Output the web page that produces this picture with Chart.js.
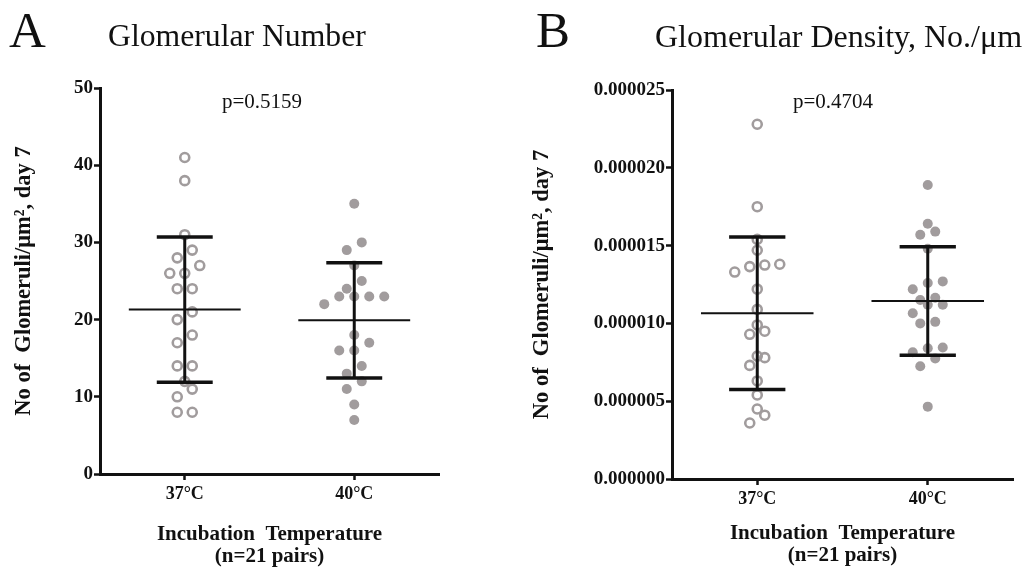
<!DOCTYPE html>
<html>
<head>
<meta charset="utf-8">
<script src="https://cdn.jsdelivr.net/npm/chart.js@4.4.0/dist/chart.umd.min.js"></script>
<style>
  body { margin: 0; background: #fff; width: 1027px; height: 568px; position: relative; overflow: hidden;
         font-family: "Liberation Serif", "Times New Roman", serif; color: #111; }
  .panel { position: absolute; top: 0; height: 568px; }
  .txt { position: absolute; white-space: nowrap; line-height: 1; z-index: 2; }
</style>
</head>
<body>
<div class="txt" style="left:9px; top:5px; font-size:51px;">A</div>
<div class="txt" style="left:108px; top:20px; font-size:31.7px;">Glomerular Number</div>
<div class="txt" style="left:222px; top:91px; font-size:21px;">p=0.5159</div>

<div class="txt" style="left:536px; top:5px; font-size:51px;">B</div>
<div class="txt" style="left:655px; top:20px; font-size:32px;">Glomerular Density, No./μm</div>
<div class="txt" style="left:793px; top:91px; font-size:21px;">p=0.4704</div>

<div class="panel" style="left:0; width:510px;"><canvas id="chartA"></canvas></div>
<div class="panel" style="left:510px; width:517px;"><canvas id="chartB"></canvas></div>

<script>
// Values
const categories = ['37°C', '40°C'];

// Panel A: glomerular number
const numberAt37 = [41, 38, 31, 29, 28, 27, 26, 26, 24, 24, 21, 20, 18, 17, 14, 14, 12, 11, 10, 8, 8];
const numberAt40 = [35, 30, 29, 27, 25, 24, 23, 23, 23, 23, 22, 18, 17, 16, 16, 14, 13, 12, 11, 9, 7];
const numberMean = [21.3, 19.9];
const numberSD = [9.4, 7.45];
const numberTicks = [0, 10, 20, 30, 40, 50];

// Panel B: glomerular density
const densityAt37 = [22.8e-6, 17.5e-6, 15.4e-6, 14.7e-6, 13.8e-6, 13.75e-6, 13.65e-6, 13.3e-6, 12.2e-6, 10.9e-6,
                     9.9e-6, 9.5e-6, 9.3e-6, 7.9e-6, 7.8e-6, 7.3e-6, 6.3e-6, 5.4e-6, 4.5e-6, 4.1e-6, 3.6e-6];
const densityAt40 = [18.9e-6, 16.4e-6, 15.9e-6, 15.7e-6, 14.8e-6, 12.7e-6, 12.6e-6, 12.2e-6, 11.65e-6, 11.5e-6,
                     11.2e-6, 11.2e-6, 10.65e-6, 10.1e-6, 10.0e-6, 8.45e-6, 8.4e-6, 8.15e-6, 7.75e-6, 7.25e-6, 4.65e-6];
const densityMean = [10.65e-6, 11.44e-6];
const densitySD = [4.9e-6, 3.48e-6];
const densityTicks = [0, 0.000005, 0.00001, 0.000015, 0.00002, 0.000025];

const FONT = '"Liberation Serif", "Times New Roman", serif';
const INK = '#111';
const GREY = '#a19c9d';

// Prism-style scatter dot plot: points that are close in value share a row
// and the row is centred on the category
const swarmPlugin = {
  id: 'swarm',
  afterDatasetsUpdate(chart) {
    const gap = 15, rowHeight = 9;
    chart.data.datasets.forEach((ds, i) => {
      if (!ds.swarm) return;
      const pts = chart.getDatasetMeta(i).data.slice().sort((a, b) => b.y - a.y);
      let row = [];
      const flush = () => {
        row.forEach((p, j) => { p.x = p.x + (j - (row.length - 1) / 2) * gap; });
        row = [];
      };
      pts.forEach(p => {
        if (row.length && row[0].y - p.y > rowHeight) flush();
        row.push(p);
      });
      flush();
    });
  }
};

function segment(points, width) {
  return {
    type: 'scatter',
    data: points.map(p => ({ x: p[0], y: p[1] })),
    showLine: true,
    borderColor: INK,
    borderWidth: width,
    borderCapStyle: 'butt',
    pointRadius: 0,
    order: 0
  };
}

function summaryDatasets(means, sds) {
  const out = [];
  means.forEach((m, i) => {
    const c = i + 1, s = sds[i];
    out.push(segment([[c - 0.33, m], [c + 0.33, m]], 2));
    out.push(segment([[c, m - s], [c, m + s]], 3));
    out.push(segment([[c - 0.165, m + s], [c + 0.165, m + s]], 3.5));
    out.push(segment([[c - 0.165, m - s], [c + 0.165, m - s]], 3.5));
  });
  return out;
}

function pointDatasets(a, b) {
  return [
    {
      data: a.map(v => ({ x: 1, y: v })),
      swarm: true,
      pointRadius: 4.5,
      pointBorderWidth: 2.6,
      pointBorderColor: GREY,
      pointBackgroundColor: 'rgba(0,0,0,0)',
      order: 1
    },
    {
      data: b.map(v => ({ x: 2, y: v })),
      swarm: true,
      pointRadius: 5,
      pointBorderWidth: 0,
      pointBackgroundColor: GREY,
      order: 1
    }
  ];
}

function makeOptions(cfg) {
  return {
    responsive: true,
    maintainAspectRatio: false,
    animation: false,
    layout: { padding: { left: 0, top: cfg.top, right: cfg.right, bottom: 0 } },
    plugins: { legend: { display: false }, tooltip: { enabled: false } },
    scales: {
      x: {
        type: 'linear',
        min: 0.5,
        max: 2.5,
        afterBuildTicks: s => { s.ticks = categories.map((c, i) => ({ value: i + 1 })); },
        afterFit: s => { s.height = cfg.xHeight; },
        ticks: {
          callback: v => categories[v - 1],
          font: { family: FONT, size: 18, weight: 'bold' },
          color: INK,
          padding: 4,
          maxRotation: 0,
          autoSkip: false
        },
        grid: { drawOnChartArea: false, drawTicks: true, tickLength: 6, tickWidth: 2.5, color: INK },
        border: { display: true, width: 3, color: INK },
        title: {
          display: true,
          text: ['Incubation  Temperature', '(n=21 pairs)'],
          font: { family: FONT, size: 21, weight: 'bold', lineHeight: 1.05 },
          color: INK,
          padding: { top: 0, bottom: cfg.xTitlePad }
        }
      },
      y: {
        min: 0,
        max: cfg.ticks[cfg.ticks.length - 1],
        afterBuildTicks: s => { s.ticks = cfg.ticks.map(v => ({ value: v })); },
        afterFit: s => { s.width = cfg.yWidth; },
        ticks: {
          callback: cfg.format,
          font: { family: FONT, size: 19, weight: 'bold' },
          color: INK,
          padding: 1
        },
        grid: { drawOnChartArea: false, drawTicks: true, tickLength: 6, tickWidth: 2.5, color: INK },
        border: { display: true, width: 3, color: INK },
        title: {
          display: true,
          text: 'No of  Glomeruli/μm², day 7',
          font: { family: FONT, size: 22.5, weight: 'bold' },
          color: INK,
          padding: { top: cfg.yTitlePad, bottom: 0 }
        }
      }
    }
  };
}

new Chart(document.getElementById('chartA'), {
  type: 'scatter',
  data: { datasets: summaryDatasets(numberMean, numberSD).concat(pointDatasets(numberAt37, numberAt40)) },
  options: makeOptions({
    top: 88, right: 71, xHeight: 94, yWidth: 100, xTitlePad: 0, yTitlePad: 11,
    ticks: numberTicks, format: v => String(v)
  }),
  plugins: [swarmPlugin]
});

new Chart(document.getElementById('chartB'), {
  type: 'scatter',
  data: { datasets: summaryDatasets(densityMean, densitySD).concat(pointDatasets(densityAt37, densityAt40)) },
  options: makeOptions({
    top: 90, right: 14, xHeight: 89, yWidth: 162, xTitlePad: 1, yTitlePad: 19,
    ticks: densityTicks, format: v => v.toFixed(6)
  }),
  plugins: [swarmPlugin]
});
</script>
</body>
</html>
